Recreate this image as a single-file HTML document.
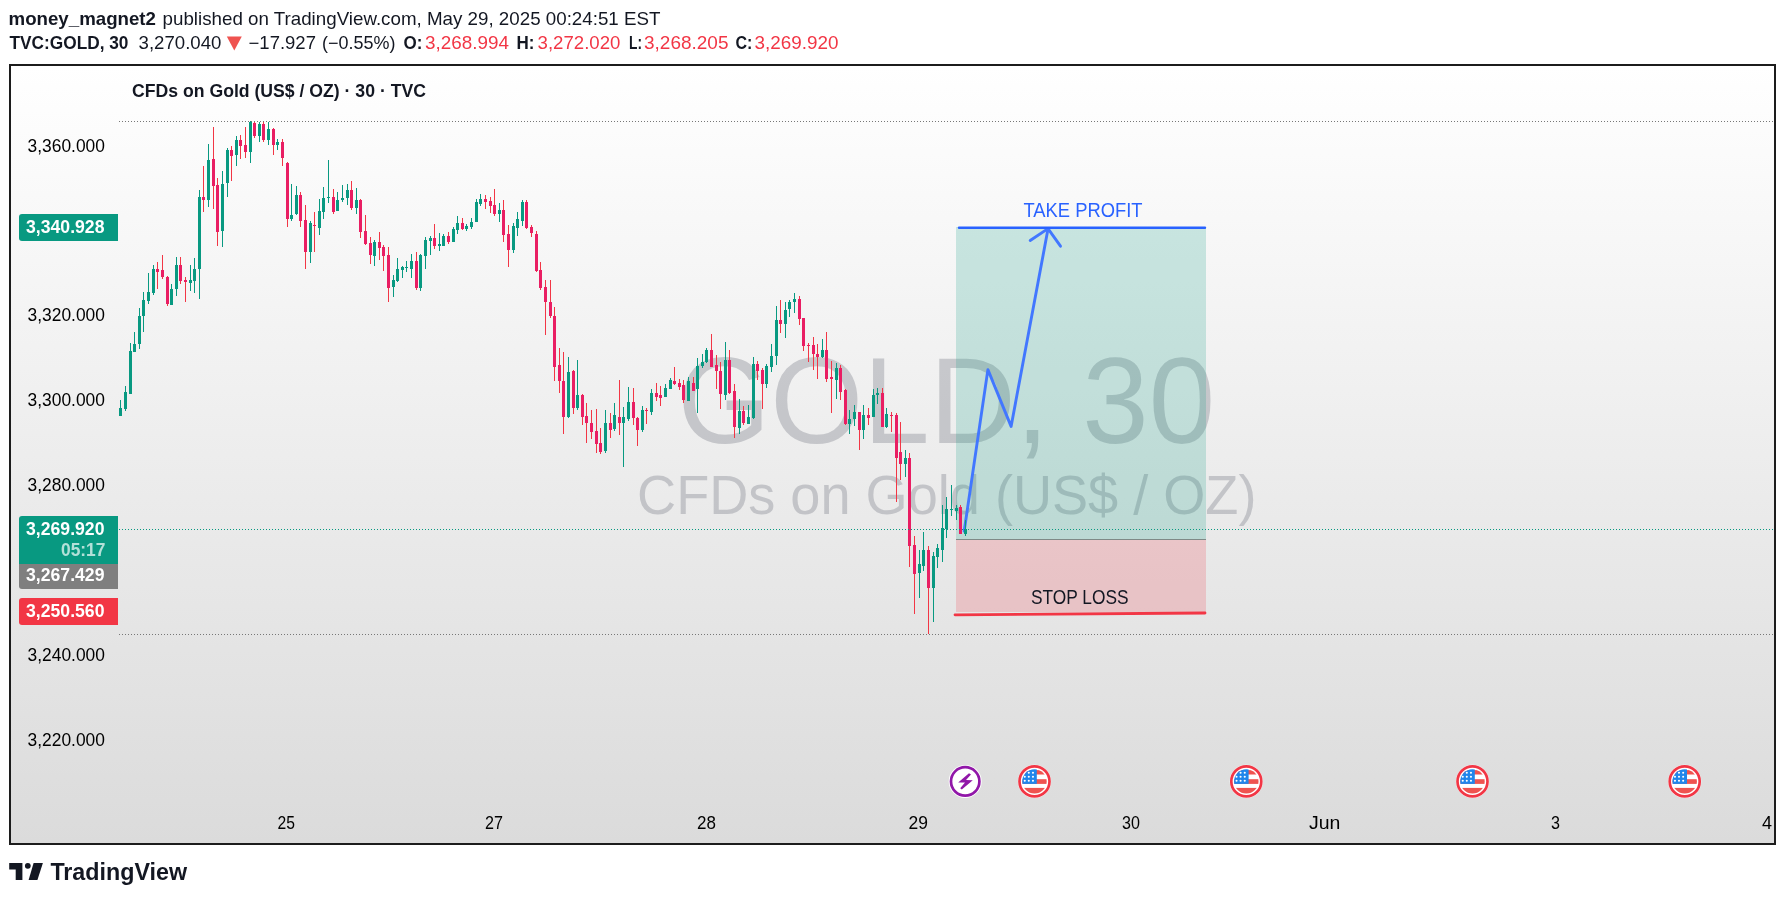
<!DOCTYPE html>
<html><head><meta charset="utf-8"><title>GOLD 30</title>
<style>
html,body{margin:0;padding:0;width:1785px;height:899px;overflow:hidden;background:#fff;}
svg{position:absolute;left:0;top:0;display:block;will-change:transform}
text{font-family:"Liberation Sans",sans-serif;}
</style></head><body>
<svg width="1785" height="899" viewBox="0 0 1785 899">
<defs>
<linearGradient id="bg" x1="0" y1="0" x2="0" y2="1"><stop offset="0" stop-color="#ffffff"/><stop offset="1" stop-color="#dbdbdb"/></linearGradient>
<clipPath id="pane"><rect x="118" y="66" width="1655" height="740"/></clipPath>
</defs>
<rect x="11" y="66" width="1763" height="777" fill="url(#bg)"/>
<!-- watermark -->
<text x="677.41" y="443.4" font-size="122" textLength="537.66" lengthAdjust="spacingAndGlyphs" fill="rgba(120,123,134,0.35)">GOLD, 30</text>
<text x="637.08" y="514.0" font-size="56.4" textLength="619.34" lengthAdjust="spacingAndGlyphs" fill="rgba(120,123,134,0.35)">CFDs on Gold (US$ / OZ)</text>
<!-- dotted lines -->
<line x1="119" y1="121.5" x2="1773" y2="121.5" stroke="#777" stroke-width="1" stroke-dasharray="1 2"/>
<line x1="119" y1="634.5" x2="1773" y2="634.5" stroke="#777" stroke-width="1" stroke-dasharray="1 2"/>
<!-- position boxes -->
<rect x="956" y="227" width="250" height="312" fill="rgba(8,153,129,0.2)"/>
<rect x="956" y="539" width="250" height="73" fill="rgba(242,54,69,0.2)"/>
<line x1="956" y1="539.5" x2="1206" y2="539.5" stroke="#7f8a87" stroke-width="1"/>
<!-- arrow -->
<polyline points="964.2,531 987.9,369.6 1011.1,426.4 1048,229" fill="none" stroke="#4277ff" stroke-width="2.9" stroke-linejoin="round" stroke-linecap="round"/>
<polyline points="1030.2,240.5 1048,228.6 1060.5,246.2" fill="none" stroke="#4277ff" stroke-width="2.9" stroke-linecap="round" stroke-linejoin="round"/>
<!-- candles -->
<g clip-path="url(#pane)">
<rect x="120" y="400" width="1" height="16" fill="#089981"/>
<rect x="119" y="408" width="3" height="8" fill="#089981"/>
<rect x="125" y="386" width="1" height="25" fill="#089981"/>
<rect x="124" y="392" width="3" height="17" fill="#089981"/>
<rect x="130" y="343" width="1" height="51" fill="#089981"/>
<rect x="129" y="351" width="3" height="43" fill="#089981"/>
<rect x="134" y="332" width="1" height="20" fill="#089981"/>
<rect x="133" y="344" width="3" height="8" fill="#089981"/>
<rect x="139" y="308" width="1" height="41" fill="#089981"/>
<rect x="138" y="316" width="3" height="28" fill="#089981"/>
<rect x="143" y="292" width="1" height="40" fill="#089981"/>
<rect x="142" y="300" width="3" height="16" fill="#089981"/>
<rect x="148" y="273" width="1" height="31" fill="#089981"/>
<rect x="147" y="292" width="3" height="9" fill="#089981"/>
<rect x="153" y="265" width="1" height="30" fill="#089981"/>
<rect x="152" y="269" width="3" height="24" fill="#089981"/>
<rect x="157" y="262" width="1" height="27" fill="#f23645"/>
<rect x="156" y="269" width="3" height="3" fill="#e91e63"/>
<rect x="162" y="255" width="1" height="24" fill="#f23645"/>
<rect x="161" y="270" width="3" height="7" fill="#e91e63"/>
<rect x="167" y="276" width="1" height="30" fill="#f23645"/>
<rect x="166" y="277" width="3" height="27" fill="#e91e63"/>
<rect x="171" y="284" width="1" height="21" fill="#089981"/>
<rect x="170" y="289" width="3" height="16" fill="#089981"/>
<rect x="176" y="257" width="1" height="39" fill="#089981"/>
<rect x="175" y="265" width="3" height="24" fill="#089981"/>
<rect x="180" y="257" width="1" height="27" fill="#f23645"/>
<rect x="179" y="265" width="3" height="16" fill="#e91e63"/>
<rect x="185" y="277" width="1" height="25" fill="#f23645"/>
<rect x="184" y="280" width="3" height="2" fill="#e91e63"/>
<rect x="190" y="265" width="1" height="26" fill="#089981"/>
<rect x="189" y="280" width="3" height="3" fill="#089981"/>
<rect x="194" y="258" width="1" height="35" fill="#089981"/>
<rect x="193" y="269" width="3" height="12" fill="#089981"/>
<rect x="199" y="190" width="1" height="109" fill="#089981"/>
<rect x="198" y="197" width="3" height="72" fill="#089981"/>
<rect x="203" y="166" width="1" height="46" fill="#f23645"/>
<rect x="202" y="197" width="3" height="3" fill="#e91e63"/>
<rect x="208" y="144" width="1" height="63" fill="#089981"/>
<rect x="207" y="160" width="3" height="40" fill="#089981"/>
<rect x="213" y="127" width="1" height="82" fill="#f23645"/>
<rect x="212" y="159" width="3" height="27" fill="#e91e63"/>
<rect x="217" y="178" width="1" height="68" fill="#f23645"/>
<rect x="216" y="185" width="3" height="47" fill="#e91e63"/>
<rect x="222" y="171" width="1" height="76" fill="#089981"/>
<rect x="221" y="184" width="3" height="47" fill="#089981"/>
<rect x="227" y="148" width="1" height="49" fill="#089981"/>
<rect x="226" y="150" width="3" height="33" fill="#089981"/>
<rect x="231" y="146" width="1" height="35" fill="#f23645"/>
<rect x="230" y="150" width="3" height="6" fill="#e91e63"/>
<rect x="236" y="136" width="1" height="30" fill="#089981"/>
<rect x="235" y="140" width="3" height="15" fill="#089981"/>
<rect x="240" y="135" width="1" height="24" fill="#f23645"/>
<rect x="239" y="140" width="3" height="6" fill="#e91e63"/>
<rect x="245" y="127" width="1" height="31" fill="#f23645"/>
<rect x="244" y="145" width="3" height="7" fill="#e91e63"/>
<rect x="250" y="121" width="1" height="42" fill="#089981"/>
<rect x="249" y="122" width="3" height="30" fill="#089981"/>
<rect x="254" y="122" width="1" height="16" fill="#f23645"/>
<rect x="253" y="123" width="3" height="13" fill="#e91e63"/>
<rect x="259" y="122" width="1" height="20" fill="#089981"/>
<rect x="258" y="124" width="3" height="12" fill="#089981"/>
<rect x="263" y="122" width="1" height="20" fill="#f23645"/>
<rect x="262" y="124" width="3" height="16" fill="#e91e63"/>
<rect x="268" y="122" width="1" height="23" fill="#089981"/>
<rect x="267" y="129" width="3" height="11" fill="#089981"/>
<rect x="273" y="128" width="1" height="27" fill="#f23645"/>
<rect x="272" y="129" width="3" height="16" fill="#e91e63"/>
<rect x="277" y="139" width="1" height="11" fill="#089981"/>
<rect x="276" y="142" width="3" height="3" fill="#089981"/>
<rect x="282" y="139" width="1" height="27" fill="#f23645"/>
<rect x="281" y="142" width="3" height="16" fill="#e91e63"/>
<rect x="287" y="162" width="1" height="65" fill="#f23645"/>
<rect x="286" y="163" width="3" height="56" fill="#e91e63"/>
<rect x="291" y="184" width="1" height="37" fill="#089981"/>
<rect x="290" y="215" width="3" height="4" fill="#089981"/>
<rect x="296" y="186" width="1" height="29" fill="#089981"/>
<rect x="295" y="195" width="3" height="19" fill="#089981"/>
<rect x="300" y="192" width="1" height="35" fill="#f23645"/>
<rect x="299" y="195" width="3" height="26" fill="#e91e63"/>
<rect x="305" y="205" width="1" height="64" fill="#f23645"/>
<rect x="304" y="220" width="3" height="32" fill="#e91e63"/>
<rect x="310" y="221" width="1" height="42" fill="#089981"/>
<rect x="309" y="223" width="3" height="29" fill="#089981"/>
<rect x="314" y="212" width="1" height="40" fill="#f23645"/>
<rect x="313" y="225" width="3" height="1" fill="#e91e63"/>
<rect x="319" y="199" width="1" height="36" fill="#089981"/>
<rect x="318" y="211" width="3" height="17" fill="#089981"/>
<rect x="323" y="187" width="1" height="32" fill="#089981"/>
<rect x="322" y="198" width="3" height="14" fill="#089981"/>
<rect x="328" y="160" width="1" height="43" fill="#089981"/>
<rect x="327" y="197" width="3" height="1" fill="#089981"/>
<rect x="333" y="189" width="1" height="25" fill="#f23645"/>
<rect x="332" y="197" width="3" height="15" fill="#e91e63"/>
<rect x="337" y="192" width="1" height="19" fill="#089981"/>
<rect x="336" y="200" width="3" height="11" fill="#089981"/>
<rect x="342" y="185" width="1" height="17" fill="#089981"/>
<rect x="341" y="198" width="3" height="2" fill="#089981"/>
<rect x="347" y="184" width="1" height="21" fill="#089981"/>
<rect x="346" y="190" width="3" height="8" fill="#089981"/>
<rect x="351" y="181" width="1" height="29" fill="#f23645"/>
<rect x="350" y="190" width="3" height="18" fill="#e91e63"/>
<rect x="356" y="188" width="1" height="26" fill="#089981"/>
<rect x="355" y="200" width="3" height="8" fill="#089981"/>
<rect x="360" y="199" width="1" height="39" fill="#f23645"/>
<rect x="359" y="200" width="3" height="32" fill="#e91e63"/>
<rect x="365" y="215" width="1" height="30" fill="#f23645"/>
<rect x="364" y="231" width="3" height="13" fill="#e91e63"/>
<rect x="370" y="237" width="1" height="27" fill="#f23645"/>
<rect x="369" y="243" width="3" height="12" fill="#e91e63"/>
<rect x="374" y="240" width="1" height="26" fill="#089981"/>
<rect x="373" y="242" width="3" height="14" fill="#089981"/>
<rect x="379" y="232" width="1" height="28" fill="#f23645"/>
<rect x="378" y="242" width="3" height="6" fill="#e91e63"/>
<rect x="383" y="245" width="1" height="26" fill="#f23645"/>
<rect x="382" y="247" width="3" height="9" fill="#e91e63"/>
<rect x="388" y="247" width="1" height="55" fill="#f23645"/>
<rect x="387" y="255" width="3" height="33" fill="#e91e63"/>
<rect x="393" y="275" width="1" height="22" fill="#089981"/>
<rect x="392" y="280" width="3" height="7" fill="#089981"/>
<rect x="397" y="258" width="1" height="24" fill="#089981"/>
<rect x="396" y="269" width="3" height="12" fill="#089981"/>
<rect x="402" y="266" width="1" height="12" fill="#089981"/>
<rect x="401" y="267" width="3" height="3" fill="#089981"/>
<rect x="406" y="261" width="1" height="11" fill="#089981"/>
<rect x="405" y="267" width="3" height="1" fill="#089981"/>
<rect x="411" y="254" width="1" height="24" fill="#089981"/>
<rect x="410" y="261" width="3" height="8" fill="#089981"/>
<rect x="416" y="252" width="1" height="38" fill="#f23645"/>
<rect x="415" y="261" width="3" height="27" fill="#e91e63"/>
<rect x="420" y="254" width="1" height="37" fill="#089981"/>
<rect x="419" y="255" width="3" height="33" fill="#089981"/>
<rect x="425" y="237" width="1" height="32" fill="#089981"/>
<rect x="424" y="240" width="3" height="16" fill="#089981"/>
<rect x="430" y="236" width="1" height="19" fill="#089981"/>
<rect x="429" y="238" width="3" height="3" fill="#089981"/>
<rect x="434" y="224" width="1" height="25" fill="#f23645"/>
<rect x="433" y="238" width="3" height="8" fill="#e91e63"/>
<rect x="439" y="233" width="1" height="18" fill="#089981"/>
<rect x="438" y="244" width="3" height="2" fill="#089981"/>
<rect x="443" y="234" width="1" height="12" fill="#089981"/>
<rect x="442" y="236" width="3" height="10" fill="#089981"/>
<rect x="448" y="232" width="1" height="12" fill="#f23645"/>
<rect x="447" y="236" width="3" height="6" fill="#e91e63"/>
<rect x="453" y="227" width="1" height="15" fill="#089981"/>
<rect x="452" y="229" width="3" height="13" fill="#089981"/>
<rect x="457" y="216" width="1" height="18" fill="#089981"/>
<rect x="456" y="223" width="3" height="7" fill="#089981"/>
<rect x="462" y="218" width="1" height="12" fill="#f23645"/>
<rect x="461" y="223" width="3" height="6" fill="#e91e63"/>
<rect x="466" y="224" width="1" height="7" fill="#089981"/>
<rect x="465" y="226" width="3" height="3" fill="#089981"/>
<rect x="471" y="218" width="1" height="11" fill="#089981"/>
<rect x="470" y="222" width="3" height="5" fill="#089981"/>
<rect x="476" y="199" width="1" height="23" fill="#089981"/>
<rect x="475" y="202" width="3" height="20" fill="#089981"/>
<rect x="480" y="194" width="1" height="12" fill="#089981"/>
<rect x="479" y="199" width="3" height="5" fill="#089981"/>
<rect x="485" y="195" width="1" height="14" fill="#f23645"/>
<rect x="484" y="199" width="3" height="3" fill="#e91e63"/>
<rect x="490" y="197" width="1" height="16" fill="#f23645"/>
<rect x="489" y="201" width="3" height="5" fill="#e91e63"/>
<rect x="494" y="189" width="1" height="27" fill="#f23645"/>
<rect x="493" y="205" width="3" height="9" fill="#e91e63"/>
<rect x="499" y="203" width="1" height="19" fill="#089981"/>
<rect x="498" y="210" width="3" height="4" fill="#089981"/>
<rect x="503" y="200" width="1" height="42" fill="#f23645"/>
<rect x="502" y="210" width="3" height="25" fill="#e91e63"/>
<rect x="508" y="225" width="1" height="42" fill="#f23645"/>
<rect x="507" y="234" width="3" height="16" fill="#e91e63"/>
<rect x="513" y="223" width="1" height="30" fill="#089981"/>
<rect x="512" y="226" width="3" height="24" fill="#089981"/>
<rect x="517" y="212" width="1" height="24" fill="#089981"/>
<rect x="516" y="219" width="3" height="9" fill="#089981"/>
<rect x="522" y="200" width="1" height="26" fill="#089981"/>
<rect x="521" y="202" width="3" height="19" fill="#089981"/>
<rect x="526" y="200" width="1" height="29" fill="#f23645"/>
<rect x="525" y="202" width="3" height="26" fill="#e91e63"/>
<rect x="531" y="225" width="1" height="12" fill="#f23645"/>
<rect x="530" y="227" width="3" height="6" fill="#e91e63"/>
<rect x="536" y="231" width="1" height="41" fill="#f23645"/>
<rect x="535" y="234" width="3" height="37" fill="#e91e63"/>
<rect x="540" y="262" width="1" height="28" fill="#f23645"/>
<rect x="539" y="270" width="3" height="18" fill="#e91e63"/>
<rect x="545" y="280" width="1" height="55" fill="#f23645"/>
<rect x="544" y="287" width="3" height="15" fill="#e91e63"/>
<rect x="550" y="280" width="1" height="38" fill="#f23645"/>
<rect x="549" y="302" width="3" height="14" fill="#e91e63"/>
<rect x="554" y="307" width="1" height="74" fill="#f23645"/>
<rect x="553" y="316" width="3" height="51" fill="#e91e63"/>
<rect x="559" y="348" width="1" height="45" fill="#f23645"/>
<rect x="558" y="365" width="3" height="16" fill="#e91e63"/>
<rect x="563" y="352" width="1" height="82" fill="#f23645"/>
<rect x="562" y="381" width="3" height="36" fill="#e91e63"/>
<rect x="568" y="357" width="1" height="61" fill="#089981"/>
<rect x="567" y="372" width="3" height="45" fill="#089981"/>
<rect x="573" y="370" width="1" height="44" fill="#f23645"/>
<rect x="572" y="371" width="3" height="37" fill="#e91e63"/>
<rect x="577" y="360" width="1" height="50" fill="#089981"/>
<rect x="576" y="395" width="3" height="13" fill="#089981"/>
<rect x="582" y="394" width="1" height="31" fill="#f23645"/>
<rect x="581" y="395" width="3" height="22" fill="#e91e63"/>
<rect x="586" y="403" width="1" height="40" fill="#f23645"/>
<rect x="585" y="416" width="3" height="7" fill="#e91e63"/>
<rect x="591" y="410" width="1" height="29" fill="#f23645"/>
<rect x="590" y="423" width="3" height="9" fill="#e91e63"/>
<rect x="596" y="409" width="1" height="44" fill="#f23645"/>
<rect x="595" y="431" width="3" height="13" fill="#e91e63"/>
<rect x="600" y="428" width="1" height="26" fill="#f23645"/>
<rect x="599" y="443" width="3" height="9" fill="#e91e63"/>
<rect x="605" y="410" width="1" height="43" fill="#089981"/>
<rect x="604" y="423" width="3" height="28" fill="#089981"/>
<rect x="610" y="413" width="1" height="25" fill="#f23645"/>
<rect x="609" y="423" width="3" height="7" fill="#e91e63"/>
<rect x="614" y="403" width="1" height="28" fill="#089981"/>
<rect x="613" y="415" width="3" height="14" fill="#089981"/>
<rect x="619" y="380" width="1" height="55" fill="#f23645"/>
<rect x="618" y="417" width="3" height="6" fill="#e91e63"/>
<rect x="623" y="407" width="1" height="60" fill="#089981"/>
<rect x="622" y="417" width="3" height="6" fill="#089981"/>
<rect x="628" y="387" width="1" height="34" fill="#089981"/>
<rect x="627" y="402" width="3" height="17" fill="#089981"/>
<rect x="633" y="388" width="1" height="37" fill="#f23645"/>
<rect x="632" y="402" width="3" height="16" fill="#e91e63"/>
<rect x="637" y="417" width="1" height="29" fill="#f23645"/>
<rect x="636" y="418" width="3" height="12" fill="#e91e63"/>
<rect x="642" y="406" width="1" height="26" fill="#089981"/>
<rect x="641" y="410" width="3" height="20" fill="#089981"/>
<rect x="646" y="408" width="1" height="16" fill="#f23645"/>
<rect x="645" y="410" width="3" height="1" fill="#e91e63"/>
<rect x="651" y="389" width="1" height="26" fill="#089981"/>
<rect x="650" y="393" width="3" height="19" fill="#089981"/>
<rect x="656" y="383" width="1" height="18" fill="#f23645"/>
<rect x="655" y="393" width="3" height="4" fill="#e91e63"/>
<rect x="660" y="386" width="1" height="20" fill="#f23645"/>
<rect x="659" y="395" width="3" height="3" fill="#e91e63"/>
<rect x="665" y="384" width="1" height="13" fill="#089981"/>
<rect x="664" y="388" width="3" height="9" fill="#089981"/>
<rect x="670" y="378" width="1" height="11" fill="#089981"/>
<rect x="669" y="380" width="3" height="9" fill="#089981"/>
<rect x="674" y="367" width="1" height="18" fill="#f23645"/>
<rect x="673" y="381" width="3" height="3" fill="#e91e63"/>
<rect x="679" y="379" width="1" height="11" fill="#f23645"/>
<rect x="678" y="383" width="3" height="4" fill="#e91e63"/>
<rect x="683" y="380" width="1" height="23" fill="#f23645"/>
<rect x="682" y="385" width="3" height="15" fill="#e91e63"/>
<rect x="688" y="377" width="1" height="24" fill="#089981"/>
<rect x="687" y="381" width="3" height="20" fill="#089981"/>
<rect x="693" y="377" width="1" height="14" fill="#f23645"/>
<rect x="692" y="383" width="3" height="8" fill="#e91e63"/>
<rect x="697" y="358" width="1" height="55" fill="#089981"/>
<rect x="696" y="366" width="3" height="23" fill="#089981"/>
<rect x="702" y="354" width="1" height="14" fill="#089981"/>
<rect x="701" y="362" width="3" height="4" fill="#089981"/>
<rect x="706" y="348" width="1" height="15" fill="#089981"/>
<rect x="705" y="350" width="3" height="12" fill="#089981"/>
<rect x="711" y="334" width="1" height="33" fill="#f23645"/>
<rect x="710" y="350" width="3" height="17" fill="#e91e63"/>
<rect x="716" y="355" width="1" height="34" fill="#f23645"/>
<rect x="715" y="365" width="3" height="6" fill="#e91e63"/>
<rect x="720" y="362" width="1" height="47" fill="#f23645"/>
<rect x="719" y="371" width="3" height="23" fill="#e91e63"/>
<rect x="725" y="342" width="1" height="58" fill="#089981"/>
<rect x="724" y="360" width="3" height="35" fill="#089981"/>
<rect x="729" y="350" width="1" height="44" fill="#f23645"/>
<rect x="728" y="360" width="3" height="33" fill="#e91e63"/>
<rect x="734" y="384" width="1" height="54" fill="#f23645"/>
<rect x="733" y="391" width="3" height="36" fill="#e91e63"/>
<rect x="739" y="399" width="1" height="35" fill="#089981"/>
<rect x="738" y="411" width="3" height="17" fill="#089981"/>
<rect x="743" y="406" width="1" height="19" fill="#f23645"/>
<rect x="742" y="411" width="3" height="12" fill="#e91e63"/>
<rect x="748" y="405" width="1" height="19" fill="#089981"/>
<rect x="747" y="417" width="3" height="7" fill="#089981"/>
<rect x="753" y="357" width="1" height="62" fill="#089981"/>
<rect x="752" y="364" width="3" height="54" fill="#089981"/>
<rect x="757" y="361" width="1" height="19" fill="#f23645"/>
<rect x="756" y="364" width="3" height="7" fill="#e91e63"/>
<rect x="762" y="368" width="1" height="41" fill="#f23645"/>
<rect x="761" y="370" width="3" height="14" fill="#e91e63"/>
<rect x="766" y="364" width="1" height="24" fill="#089981"/>
<rect x="765" y="366" width="3" height="18" fill="#089981"/>
<rect x="771" y="344" width="1" height="28" fill="#089981"/>
<rect x="770" y="356" width="3" height="11" fill="#089981"/>
<rect x="776" y="306" width="1" height="59" fill="#089981"/>
<rect x="775" y="320" width="3" height="36" fill="#089981"/>
<rect x="780" y="300" width="1" height="33" fill="#f23645"/>
<rect x="779" y="320" width="3" height="4" fill="#e91e63"/>
<rect x="785" y="302" width="1" height="36" fill="#089981"/>
<rect x="784" y="310" width="3" height="14" fill="#089981"/>
<rect x="789" y="300" width="1" height="17" fill="#089981"/>
<rect x="788" y="302" width="3" height="7" fill="#089981"/>
<rect x="794" y="293" width="1" height="20" fill="#089981"/>
<rect x="793" y="299" width="3" height="3" fill="#089981"/>
<rect x="799" y="296" width="1" height="29" fill="#f23645"/>
<rect x="798" y="299" width="3" height="20" fill="#e91e63"/>
<rect x="803" y="318" width="1" height="33" fill="#f23645"/>
<rect x="802" y="318" width="3" height="28" fill="#e91e63"/>
<rect x="808" y="343" width="1" height="19" fill="#f23645"/>
<rect x="807" y="345" width="3" height="1" fill="#e91e63"/>
<rect x="813" y="337" width="1" height="33" fill="#f23645"/>
<rect x="812" y="345" width="3" height="9" fill="#e91e63"/>
<rect x="817" y="344" width="1" height="35" fill="#f23645"/>
<rect x="816" y="354" width="3" height="3" fill="#e91e63"/>
<rect x="822" y="339" width="1" height="19" fill="#089981"/>
<rect x="821" y="350" width="3" height="7" fill="#089981"/>
<rect x="826" y="332" width="1" height="50" fill="#f23645"/>
<rect x="825" y="350" width="3" height="29" fill="#e91e63"/>
<rect x="831" y="361" width="1" height="52" fill="#f23645"/>
<rect x="830" y="377" width="3" height="2" fill="#e91e63"/>
<rect x="836" y="363" width="1" height="36" fill="#089981"/>
<rect x="835" y="368" width="3" height="12" fill="#089981"/>
<rect x="840" y="365" width="1" height="35" fill="#f23645"/>
<rect x="839" y="368" width="3" height="24" fill="#e91e63"/>
<rect x="845" y="389" width="1" height="36" fill="#f23645"/>
<rect x="844" y="390" width="3" height="34" fill="#e91e63"/>
<rect x="849" y="410" width="1" height="24" fill="#089981"/>
<rect x="848" y="419" width="3" height="5" fill="#089981"/>
<rect x="854" y="405" width="1" height="21" fill="#089981"/>
<rect x="853" y="412" width="3" height="7" fill="#089981"/>
<rect x="859" y="412" width="1" height="38" fill="#f23645"/>
<rect x="858" y="412" width="3" height="18" fill="#e91e63"/>
<rect x="863" y="405" width="1" height="34" fill="#089981"/>
<rect x="862" y="415" width="3" height="15" fill="#089981"/>
<rect x="868" y="408" width="1" height="17" fill="#f23645"/>
<rect x="867" y="415" width="3" height="3" fill="#e91e63"/>
<rect x="873" y="389" width="1" height="28" fill="#089981"/>
<rect x="872" y="395" width="3" height="22" fill="#089981"/>
<rect x="877" y="388" width="1" height="16" fill="#089981"/>
<rect x="876" y="393" width="3" height="2" fill="#089981"/>
<rect x="882" y="388" width="1" height="39" fill="#f23645"/>
<rect x="881" y="393" width="3" height="34" fill="#e91e63"/>
<rect x="886" y="408" width="1" height="20" fill="#089981"/>
<rect x="885" y="414" width="3" height="13" fill="#089981"/>
<rect x="891" y="412" width="1" height="20" fill="#f23645"/>
<rect x="890" y="415" width="3" height="1" fill="#e91e63"/>
<rect x="896" y="413" width="1" height="89" fill="#f23645"/>
<rect x="895" y="415" width="3" height="43" fill="#e91e63"/>
<rect x="900" y="422" width="1" height="58" fill="#f23645"/>
<rect x="899" y="452" width="3" height="12" fill="#e91e63"/>
<rect x="905" y="450" width="1" height="27" fill="#089981"/>
<rect x="904" y="458" width="3" height="6" fill="#089981"/>
<rect x="909" y="453" width="1" height="114" fill="#f23645"/>
<rect x="908" y="458" width="3" height="88" fill="#e91e63"/>
<rect x="914" y="536" width="1" height="78" fill="#f23645"/>
<rect x="913" y="545" width="3" height="29" fill="#e91e63"/>
<rect x="919" y="550" width="1" height="48" fill="#089981"/>
<rect x="918" y="564" width="3" height="9" fill="#089981"/>
<rect x="923" y="532" width="1" height="39" fill="#089981"/>
<rect x="922" y="550" width="3" height="16" fill="#089981"/>
<rect x="928" y="546" width="1" height="88" fill="#f23645"/>
<rect x="927" y="550" width="3" height="38" fill="#e91e63"/>
<rect x="933" y="552" width="1" height="70" fill="#089981"/>
<rect x="932" y="556" width="3" height="32" fill="#089981"/>
<rect x="937" y="544" width="1" height="24" fill="#089981"/>
<rect x="936" y="548" width="3" height="9" fill="#089981"/>
<rect x="942" y="505" width="1" height="57" fill="#089981"/>
<rect x="941" y="528" width="3" height="22" fill="#089981"/>
<rect x="946" y="497" width="1" height="41" fill="#089981"/>
<rect x="945" y="509" width="3" height="20" fill="#089981"/>
<rect x="951" y="485" width="1" height="31" fill="#089981"/>
<rect x="950" y="509" width="3" height="1" fill="#089981"/>
<rect x="956" y="505" width="1" height="15" fill="#089981"/>
<rect x="955" y="508" width="3" height="3" fill="#089981"/>
<rect x="960" y="505" width="1" height="29" fill="#f23645"/>
<rect x="959" y="507" width="3" height="27" fill="#e91e63"/>
<rect x="965" y="520" width="1" height="16" fill="#089981"/>
<rect x="964" y="529" width="3" height="5" fill="#089981"/>
</g>
<line x1="119" y1="529.5" x2="1773" y2="529.5" stroke="#089981" stroke-width="1" stroke-dasharray="1 2"/>
<!-- TP / SL lines -->
<line x1="959" y1="227.8" x2="1205" y2="227.8" stroke="#2962ff" stroke-width="2.4" stroke-linecap="round"/>
<line x1="955" y1="614.8" x2="1205" y2="613" stroke="#f23645" stroke-width="2.8" stroke-linecap="round"/>
<text x="1023.48" y="217.0" font-size="20.7" textLength="119.04" lengthAdjust="spacingAndGlyphs" fill="#2962ff">TAKE PROFIT</text>
<text x="1030.97" y="603.9" font-size="20.8" textLength="97.55" lengthAdjust="spacingAndGlyphs" fill="#131722">STOP LOSS</text>
<!-- price axis labels -->
<text x="27.55" y="151.9" font-size="17.8" textLength="77.4" lengthAdjust="spacingAndGlyphs" fill="#000">3,360.000</text>
<text x="27.55" y="320.7" font-size="17.8" textLength="77.4" lengthAdjust="spacingAndGlyphs" fill="#000">3,320.000</text>
<text x="27.55" y="405.6" font-size="17.8" textLength="77.4" lengthAdjust="spacingAndGlyphs" fill="#000">3,300.000</text>
<text x="27.55" y="490.5" font-size="17.8" textLength="77.4" lengthAdjust="spacingAndGlyphs" fill="#000">3,280.000</text>
<text x="27.55" y="661.3" font-size="17.8" textLength="77.4" lengthAdjust="spacingAndGlyphs" fill="#000">3,240.000</text>
<text x="27.55" y="746.2" font-size="17.8" textLength="77.4" lengthAdjust="spacingAndGlyphs" fill="#000">3,220.000</text>
<!-- price label boxes -->
<path d="M22,214 H118 V241 H22 Q19,241 19,238 V217 Q19,214 22,214 Z" fill="#089981"/>
<text x="26.06" y="232.7" font-size="17.8" font-weight="bold" textLength="78.39" lengthAdjust="spacingAndGlyphs" fill="#fff">3,340.928</text>
<path d="M22,516 H118 V564 H19 V519 Q19,516 22,516 Z" fill="#089981"/>
<text x="26.05" y="534.7" font-size="17.8" font-weight="bold" textLength="78.4" lengthAdjust="spacingAndGlyphs" fill="#fff">3,269.920</text>
<text x="61.04" y="555.7" font-size="17.8" font-weight="bold" textLength="44.39" lengthAdjust="spacingAndGlyphs" fill="#b3e0d8">05:17</text>
<path d="M19,564 H118 V589 H22 Q19,589 19,586 Z" fill="#7f7f7f"/>
<text x="26.05" y="580.8" font-size="17.8" font-weight="bold" textLength="78.4" lengthAdjust="spacingAndGlyphs" fill="#fff">3,267.429</text>
<path d="M22,598 H118 V625 H22 Q19,625 19,622 V601 Q19,598 22,598 Z" fill="#f23645"/>
<text x="26.05" y="616.8" font-size="17.8" font-weight="bold" textLength="78.4" lengthAdjust="spacingAndGlyphs" fill="#fff">3,250.560</text>
<!-- time axis -->
<text x="277.55" y="828.9" font-size="17.8" textLength="17.44" lengthAdjust="spacingAndGlyphs" fill="#000">25</text>
<text x="485.02" y="828.9" font-size="17.8" textLength="17.95" lengthAdjust="spacingAndGlyphs" fill="#000">27</text>
<text x="697.05" y="828.9" font-size="17.8" textLength="18.9" lengthAdjust="spacingAndGlyphs" fill="#000">28</text>
<text x="908.55" y="828.9" font-size="17.8" textLength="19.42" lengthAdjust="spacingAndGlyphs" fill="#000">29</text>
<text x="1122.06" y="828.9" font-size="17.8" textLength="17.9" lengthAdjust="spacingAndGlyphs" fill="#000">30</text>
<text x="1309.06" y="828.9" font-size="17.8" textLength="31.4" lengthAdjust="spacingAndGlyphs" fill="#000">Jun</text>
<text x="1551.03" y="828.9" font-size="17.8" textLength="8.97" lengthAdjust="spacingAndGlyphs" fill="#000">3</text>
<text x="1762.0" y="828.9" font-size="17.8" textLength="10.0" lengthAdjust="spacingAndGlyphs" fill="#000">4</text>
<!-- events -->
<g transform="translate(965.2,781.4)">
<circle r="16.5" fill="#fff"/>
<circle r="14.2" fill="#fff" stroke="#9117a8" stroke-width="2.7"/>
<path d="M3.8,-8.2 L5.8,-6.9 L0.8,-1.4 L7.6,-1.2 L-3.4,8.0 L-5.0,6.9 L-0.2,1.0 L-7.0,1.1 Z" fill="#9117a8"/>
</g>
<g transform="translate(1034.5,781.4)">
<circle r="16.6" fill="#fff"/>
<circle r="15" fill="none" stroke="#f23645" stroke-width="2.7"/>
<clipPath id="fc1034"><circle r="12.2"/></clipPath>
<g clip-path="url(#fc1034)">
<rect x="-14" y="-14" width="28" height="28" fill="#fff"/>
<rect x="-14" y="-11.3" width="28" height="4.4" fill="#ef5350"/>
<rect x="-14" y="-2.2" width="28" height="4.7" fill="#ef5350"/>
<rect x="-14" y="6.5" width="28" height="8" fill="#ef5350"/>
<rect x="-14" y="-14" width="16.3" height="16.5" fill="#2186eb"/>
<g fill="#fff"><circle cx="-5.7" cy="-8.7" r="1.05"/><circle cx="-1.55" cy="-8.7" r="1.05"/><circle cx="-9.75" cy="-4.7" r="1.05"/><circle cx="-5.7" cy="-4.7" r="1.05"/><circle cx="-1.55" cy="-4.7" r="1.05"/><circle cx="-9.75" cy="-0.67" r="1.05"/><circle cx="-5.7" cy="-0.67" r="1.05"/><circle cx="-1.55" cy="-0.67" r="1.05"/></g>
</g>
</g>
<g transform="translate(1246.3,781.4)">
<circle r="16.6" fill="#fff"/>
<circle r="15" fill="none" stroke="#f23645" stroke-width="2.7"/>
<clipPath id="fc1246"><circle r="12.2"/></clipPath>
<g clip-path="url(#fc1246)">
<rect x="-14" y="-14" width="28" height="28" fill="#fff"/>
<rect x="-14" y="-11.3" width="28" height="4.4" fill="#ef5350"/>
<rect x="-14" y="-2.2" width="28" height="4.7" fill="#ef5350"/>
<rect x="-14" y="6.5" width="28" height="8" fill="#ef5350"/>
<rect x="-14" y="-14" width="16.3" height="16.5" fill="#2186eb"/>
<g fill="#fff"><circle cx="-5.7" cy="-8.7" r="1.05"/><circle cx="-1.55" cy="-8.7" r="1.05"/><circle cx="-9.75" cy="-4.7" r="1.05"/><circle cx="-5.7" cy="-4.7" r="1.05"/><circle cx="-1.55" cy="-4.7" r="1.05"/><circle cx="-9.75" cy="-0.67" r="1.05"/><circle cx="-5.7" cy="-0.67" r="1.05"/><circle cx="-1.55" cy="-0.67" r="1.05"/></g>
</g>
</g>
<g transform="translate(1472.5,781.4)">
<circle r="16.6" fill="#fff"/>
<circle r="15" fill="none" stroke="#f23645" stroke-width="2.7"/>
<clipPath id="fc1472"><circle r="12.2"/></clipPath>
<g clip-path="url(#fc1472)">
<rect x="-14" y="-14" width="28" height="28" fill="#fff"/>
<rect x="-14" y="-11.3" width="28" height="4.4" fill="#ef5350"/>
<rect x="-14" y="-2.2" width="28" height="4.7" fill="#ef5350"/>
<rect x="-14" y="6.5" width="28" height="8" fill="#ef5350"/>
<rect x="-14" y="-14" width="16.3" height="16.5" fill="#2186eb"/>
<g fill="#fff"><circle cx="-5.7" cy="-8.7" r="1.05"/><circle cx="-1.55" cy="-8.7" r="1.05"/><circle cx="-9.75" cy="-4.7" r="1.05"/><circle cx="-5.7" cy="-4.7" r="1.05"/><circle cx="-1.55" cy="-4.7" r="1.05"/><circle cx="-9.75" cy="-0.67" r="1.05"/><circle cx="-5.7" cy="-0.67" r="1.05"/><circle cx="-1.55" cy="-0.67" r="1.05"/></g>
</g>
</g>
<g transform="translate(1684.7,781.4)">
<circle r="16.6" fill="#fff"/>
<circle r="15" fill="none" stroke="#f23645" stroke-width="2.7"/>
<clipPath id="fc1684"><circle r="12.2"/></clipPath>
<g clip-path="url(#fc1684)">
<rect x="-14" y="-14" width="28" height="28" fill="#fff"/>
<rect x="-14" y="-11.3" width="28" height="4.4" fill="#ef5350"/>
<rect x="-14" y="-2.2" width="28" height="4.7" fill="#ef5350"/>
<rect x="-14" y="6.5" width="28" height="8" fill="#ef5350"/>
<rect x="-14" y="-14" width="16.3" height="16.5" fill="#2186eb"/>
<g fill="#fff"><circle cx="-5.7" cy="-8.7" r="1.05"/><circle cx="-1.55" cy="-8.7" r="1.05"/><circle cx="-9.75" cy="-4.7" r="1.05"/><circle cx="-5.7" cy="-4.7" r="1.05"/><circle cx="-1.55" cy="-4.7" r="1.05"/><circle cx="-9.75" cy="-0.67" r="1.05"/><circle cx="-5.7" cy="-0.67" r="1.05"/><circle cx="-1.55" cy="-0.67" r="1.05"/></g>
</g>
</g>
<!-- frame -->
<rect x="10" y="65" width="1765" height="779" fill="none" stroke="#1c1c1c" stroke-width="2"/>
<!-- title -->
<text x="132.06" y="96.8" font-size="17.5" font-weight="bold" textLength="293.88" lengthAdjust="spacingAndGlyphs" fill="#131722">CFDs on Gold (US$ / OZ) · 30 · TVC</text>
<!-- header -->
<text x="8.55" y="24.9" font-size="17.8" font-weight="bold" textLength="147.4" lengthAdjust="spacingAndGlyphs" fill="#131722">money_magnet2</text>
<text x="162.55" y="24.9" font-size="17.8" textLength="497.89" lengthAdjust="spacingAndGlyphs" fill="#131722">published on TradingView.com, May 29, 2025 00:24:51 EST</text>
<text x="9.55" y="49.4" font-size="17.8" font-weight="bold" textLength="118.89" lengthAdjust="spacingAndGlyphs" fill="#131722">TVC:GOLD, 30</text>
<text x="138.55" y="49.4" font-size="17.8" textLength="82.9" lengthAdjust="spacingAndGlyphs" fill="#131722">3,270.040</text>
<text x="248.55" y="49.4" font-size="17.8" textLength="67.4" lengthAdjust="spacingAndGlyphs" fill="#131722">−17.927</text>
<text x="322.05" y="49.4" font-size="17.8" textLength="73.4" lengthAdjust="spacingAndGlyphs" fill="#131722">(−0.55%)</text>
<text x="403.54" y="49.4" font-size="17.8" font-weight="bold" textLength="18.9" lengthAdjust="spacingAndGlyphs" fill="#131722">O:</text>
<text x="425.05" y="49.4" font-size="17.8" textLength="83.89" lengthAdjust="spacingAndGlyphs" fill="#f23645">3,268.994</text>
<text x="516.54" y="49.4" font-size="17.8" font-weight="bold" textLength="17.96" lengthAdjust="spacingAndGlyphs" fill="#131722">H:</text>
<text x="537.55" y="49.4" font-size="17.8" textLength="82.92" lengthAdjust="spacingAndGlyphs" fill="#f23645">3,272.020</text>
<text x="629.01" y="49.4" font-size="17.8" font-weight="bold" textLength="12.97" lengthAdjust="spacingAndGlyphs" fill="#131722">L:</text>
<text x="644.05" y="49.4" font-size="17.8" textLength="84.39" lengthAdjust="spacingAndGlyphs" fill="#f23645">3,268.205</text>
<text x="735.53" y="49.4" font-size="17.8" font-weight="bold" textLength="16.91" lengthAdjust="spacingAndGlyphs" fill="#131722">C:</text>
<text x="754.56" y="49.4" font-size="17.8" textLength="83.89" lengthAdjust="spacingAndGlyphs" fill="#f23645">3,269.920</text>
<path d="M226.8,36.5 H241.8 L234.3,50.6 Z" fill="#ef5350"/>
<!-- logo -->
<g fill="#131722">
<path d="M9.2,863 H22.4 V880 H15.7 V869.6 H9.2 Z"/>
<circle cx="27.8" cy="865.8" r="2.9"/>
<path d="M33.6,863 H42.9 L37.4,880 H28.6 Z"/>
</g>
<text x="50.39" y="880.0" font-size="23.9" font-weight="bold" textLength="136.71" lengthAdjust="spacingAndGlyphs" fill="#131722">TradingView</text>
</svg>
</body></html>
